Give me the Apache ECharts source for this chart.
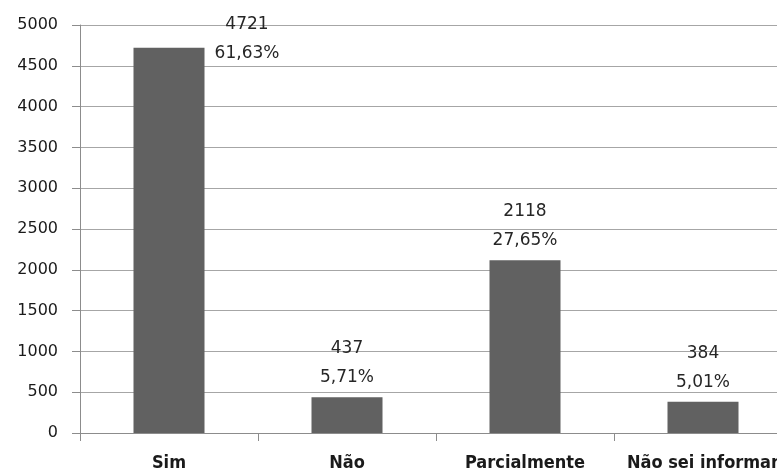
<!DOCTYPE html>
<html>
<head>
<meta charset="utf-8">
<script src="https://cdn.jsdelivr.net/npm/echarts@6/dist/echarts.min.js"></script>
<style>
  html, body { margin: 0; padding: 0; background: #fff; overflow: hidden; width: 777px; height: 473px; }
  /* the plot runs slightly past the right edge of the window */
  #chart { width: 792px; height: 473px; }
</style>
</head>
<body>
<div id="chart"></div>
<script>
// Respostas por categoria
const categories = ['Sim', 'Não', 'Parcialmente', 'Não sei informar'];
const counts = [4721, 437, 2118, 384];
const percents = ['61,63%', '5,71%', '27,65%', '5,01%'];
const yTicks = { min: 0, max: 5000, interval: 500 };

const chart = echarts.init(document.getElementById('chart'), null, { renderer: 'canvas' });

const barData = counts.map((v, i) => {
  const item = { value: v };
  // the tallest bar carries its label beside the top edge
  if (i === 0) {
    item.label = { position: 'top', offset: [78, 25] };
  }
  return item;
});

chart.setOption({
  animation: false,
  grid: { left: 80, top: 25, right: 0, bottom: 40, containLabel: false },
  xAxis: {
    type: 'category',
    data: categories,
    boundaryGap: true,
    axisLine: { show: true, lineStyle: { color: '#8c8c8c', width: 1 } },
    axisTick: { show: true, length: 8, alignWithLabel: false, lineStyle: { color: '#8c8c8c' } },
    axisLabel: {
      interval: 0,
      margin: 21,
      color: '#1a1a1a',
      fontFamily: 'DejaVu Sans Condensed',
      fontWeight: 'bold',
      fontSize: 18
    }
  },
  yAxis: {
    type: 'value',
    min: yTicks.min,
    max: yTicks.max,
    interval: yTicks.interval,
    axisLine: { show: true, lineStyle: { color: '#8c8c8c', width: 1 } },
    axisTick: { show: true, length: 8, lineStyle: { color: '#8c8c8c' } },
    axisLabel: {
      margin: 22,
      color: '#1a1a1a',
      fontFamily: 'DejaVu Sans',
      fontSize: 16,
      formatter: v => String(v)
    },
    splitLine: { show: true, lineStyle: { color: '#a6a6a6', width: 1 } }
  },
  series: [{
    type: 'bar',
    data: barData,
    barWidth: 71,
    itemStyle: { color: '#616161' },
    label: {
      show: true,
      position: 'top',
      distance: 5,
      color: '#262626',
      fontFamily: 'DejaVu Sans',
      fontSize: 17,
      lineHeight: 29,
      align: 'center',
      formatter: p => counts[p.dataIndex] + '\n' + percents[p.dataIndex]
    }
  }]
});
</script>
</body>
</html>
